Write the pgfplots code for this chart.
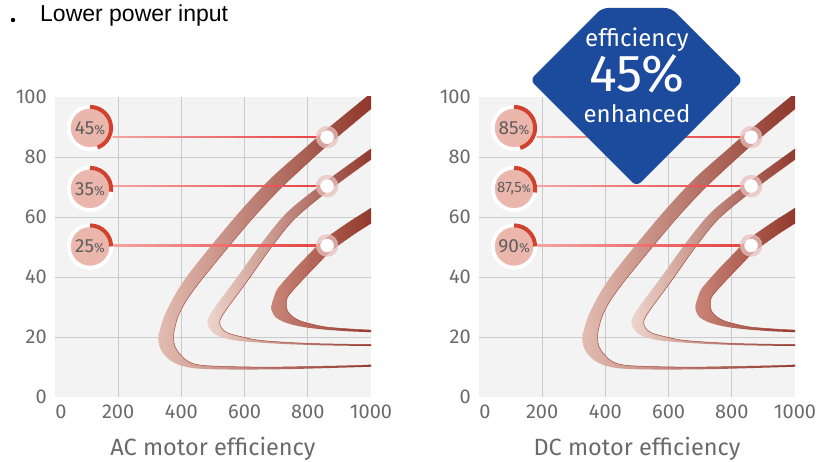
\documentclass[border=0pt]{standalone}
\usepackage{fontspec}
\setmainfont{Fira Sans}
\newfontfamily\titlefont{Liberation Sans}
\usepackage{pgfplots}
\pgfplotsset{compat=1.18}

\definecolor{bg}{HTML}{F2F3F2}
\definecolor{gridc}{HTML}{C9CACA}
\definecolor{tickc}{HTML}{6A6A6A}
\definecolor{labc}{HTML}{5E5E5E}
\definecolor{lineLight}{HTML}{F4A3A3}
\definecolor{lineRed}{HTML}{E63E3E}
\definecolor{arcRed}{HTML}{D2402E}
\definecolor{disk}{HTML}{EBB7AD}
\definecolor{halo}{HTML}{E9C1BE}
\definecolor{edge}{HTML}{A94C40}
\definecolor{dark}{HTML}{8A2E22}
\definecolor{bandAlight}{HTML}{E2BCB1}
\definecolor{bandBlight}{HTML}{EED5CC}
\definecolor{bandClight}{HTML}{C98678}
\definecolor{blueBox}{HTML}{1C4A9C}

\pgfplotsset{panel/.style={
  scale only axis, width=316pt, height=300pt,
  xmin=0, xmax=1000, ymin=0, ymax=100,
  clip marker paths=true,
  axis background/.style={fill=bg},
  axis line style={draw=none},
  major tick length=0pt,
  xtick={0,200,...,1000}, ytick={0,20,...,100},
  xticklabels={\hspace*{12pt}0,200,400,600,800,1000},
  extra x ticks={200,400,600,800}, extra y ticks={20,40,60,80},
  extra x tick labels={}, extra y tick labels={},
  extra tick style={grid=major},
  grid style={gridc, line width=0.9pt},
  /pgf/number format/1000 sep={},
  /pgf/number format/assume math mode=true,
  tick label style={font=\fontsize{20}{24}\selectfont, text=tickc, inner sep=0pt},
  yticklabel style={anchor=east, xshift=-8pt},
  xticklabel style={anchor=north, yshift=-8pt},
  xlabel style={font=\fontsize{23.5}{27}\selectfont, text=tickc,
    at={(axis description cs:0.5,0)}, anchor=base, yshift=-58pt},
}}

% the three crescent bands: outer edge down and round, then inner edge back up
\newcommand{\bands}{%
  \addplot[smooth, draw=none, left color=bandAlight, right color=dark] coordinates {
    (1017,102.8) (988,100.3) (848,88.2) (787,82.6) (684,73.0) (594,62.9) (508,52.2)
    (426,41.4) (385,35) (348,27.5) (331,22) (327,19.5) (331,16.8) (342,14.6)
    (364,12.3) (395,10.6) (440,9.6) (500,9.25) (580,9.15) (680,9.2) (780,9.4)
    (880,9.7) (1000,10.1) (1020,10.2)
    (1020,10.8) (1000,10.7) (920,10.4) (820,10.2) (720,10.0) (620,10.0) (530,10.2)
    (470,10.5) (435,11.2) (411,12.6) (390,15) (379,17) (375,19.5) (377,22)
    (390,27) (416,32.2) (460,38.6) (542,49.2) (627,59.8) (715,69.7) (814,79.4)
    (874,85.0) (1012,97.1) (1042,99.6)} -- cycle;
  \addplot[smooth, edge, line width=0.5pt] coordinates {
    (1020,10.8) (1000,10.7) (920,10.4) (820,10.2) (720,10.0) (620,10.0) (530,10.2)
    (470,10.5) (435,11.2) (411,12.6) (390,15) (379,17) (375,19.5) (377,22)
    (390,27) (416,32.2) (460,38.6) (542,49.2) (627,59.8) (715,69.7) (814,79.4)
    (874,85.0) (1012,97.1) (1042,99.6)};
  \addplot[smooth, draw=none, left color=bandBlight, right color=dark] coordinates {
    (1023,84.5) (992,82.2) (852,71.5) (736,61.7) (657,51.7) (584,41.0) (538,34.5)
    (510,30.5) (491,27.5) (482,25) (488,23) (503,21.2) (530,19.8) (575,18.8)
    (640,18.2) (720,17.7) (820,17.3) (920,17.1) (1000,17.0) (1020,17.0)
    (1020,17.5) (1000,17.5) (920,17.6) (820,17.8) (720,18.3) (640,19.0) (585,20.2)
    (545,21.4) (527,23) (521,24.8) (526,26.5) (541,29) (564,32.3) (611,39.0)
    (683,49.7) (758,59.4) (869,69.1) (1008,79.8) (1039,82.2)} -- cycle;
  \addplot[smooth, edge, line width=0.5pt] coordinates {
    (1020,17.5) (1000,17.5) (920,17.6) (820,17.8) (720,18.3) (640,19.0) (585,20.2)
    (545,21.4) (527,23) (521,24.8) (526,26.5) (541,29) (564,32.3) (611,39.0)
    (683,49.7) (758,59.4) (869,69.1) (1008,79.8) (1039,82.2)};
  \addplot[smooth, draw=none, left color=bandClight, right color=dark] coordinates {
    (1020,64.5) (989,62.3) (922,57.8) (848,52.2) (800,47.2) (751,41.8) (705,36.2)
    (692,33) (685,30.5) (687,28.5) (698,26.6) (720,25.2) (755,24) (800,23.1)
    (861,22.4) (930,21.9) (1000,21.6) (1020,21.6)
    (1020,22.3) (1000,22.3) (930,22.7) (861,23.3) (820,24.1) (775,25.4) (752,26.8)
    (738,28.3) (732,30) (732,31.5) (739,33.8) (781,38.8) (830,44.2) (874,48.8)
    (945,54.2) (1012,58.7) (1043,60.9)} -- cycle;
  \addplot[smooth, edge, line width=0.5pt] coordinates {
    (1020,22.3) (1000,22.3) (930,22.7) (861,23.3) (820,24.1) (775,25.4) (752,26.8)
    (738,28.3) (732,30) (732,31.5) (739,33.8) (781,38.8) (830,44.2) (874,48.8)
    (945,54.2) (1012,58.7) (1043,60.9)};
  % red guide lines (thin shaded strips) and the points on the bands
  \addplot[draw=none, left color=lineLight, right color=lineRed]
    coordinates {(183,86.42) (861,86.42) (861,86.78) (183,86.78)} -- cycle;
  \addplot[draw=none, left color=lineLight, right color=lineRed]
    coordinates {(183,70.12) (861,70.12) (861,70.48) (183,70.48)} -- cycle;
  \addplot[draw=none, left color=lineLight, right color=lineRed]
    coordinates {(183,50.32) (861,50.32) (861,50.68) (183,50.68)} -- cycle;
  \addplot[halo, opacity=0.75, only marks, mark=*, mark size=11pt]
    coordinates {(861,86.6) (861,70.3) (861,50.5)};
  \addplot[white, only marks, mark=*, mark size=6.5pt]
    coordinates {(861,86.6) (861,70.3) (861,50.5)};
  % badges
  \addplot[white, only marks, mark=*, mark size=23pt]
    coordinates {(111,89.7) (111,69.4) (111,50.2)};
  \addplot[disk, only marks, mark=*, mark size=19pt]
    coordinates {(111,89.7) (111,69.4) (111,50.2)};
}

\newcommand{\badge}[3]{%
  \draw[arcRed, line width=4pt] ([shift={(90:21pt)}]axis cs:111,#1)
    arc[start angle=90, delta angle=-#2, radius=21pt];
  \node[text=labc, inner sep=0pt] at (axis cs:111,#1) {#3};
}

\begin{document}
\begin{tikzpicture}
\useasboundingbox (0,0) rectangle (822pt,461pt);

\fill (13pt,441pt) circle[radius=2.2pt];
\node[anchor=base west, inner sep=0pt, font=\titlefont\fontsize{23}{26}\selectfont] at (40pt,439.3pt) {Lower power input};

\begin{axis}[panel, at={(55pt,64pt)}, anchor=south west, xlabel={AC motor efficiency}]
  \bands
  \badge{89.7}{159}{\fontsize{19}{22}\selectfont 45\fontsize{13}{15}\selectfont\%}
  \badge{69.4}{98}{\fontsize{19}{22}\selectfont 35\fontsize{13}{15}\selectfont\%}
  \badge{50.2}{90}{\fontsize{19}{22}\selectfont 25\fontsize{13}{15}\selectfont\%}
\end{axis}

\begin{axis}[panel, at={(479pt,64pt)}, anchor=south west, xlabel={DC motor efficiency}]
  \bands
  \badge{89.7}{163}{\fontsize{19}{22}\selectfont 85\fontsize{13}{15}\selectfont\%}
  \badge{69.4}{100}{\fontsize{15}{18}\selectfont 87,5\fontsize{11}{13}\selectfont\%}
  \badge{50.2}{90}{\fontsize{19}{22}\selectfont 90\fontsize{13}{15}\selectfont\%}
\end{axis}

\fill[blueBox, rounded corners=6pt] (602pt,453pt) -- (671pt,453pt) -- (743pt,381pt)
  -- (636.5pt,274.5pt) -- (530pt,381pt) -- cycle;
\node[anchor=base, white, inner sep=0pt, font=\fontsize{24}{26}\selectfont] at (637pt,414pt) {efficiency};
\node[anchor=base, white, inner sep=0pt, font=\fontsize{52}{56}\selectfont] at (637pt,369pt) {45\%};
\node[anchor=base, white, inner sep=0pt, font=\fontsize{24}{26}\selectfont] at (637pt,338.5pt) {enhanced};
\end{tikzpicture}
\end{document}
